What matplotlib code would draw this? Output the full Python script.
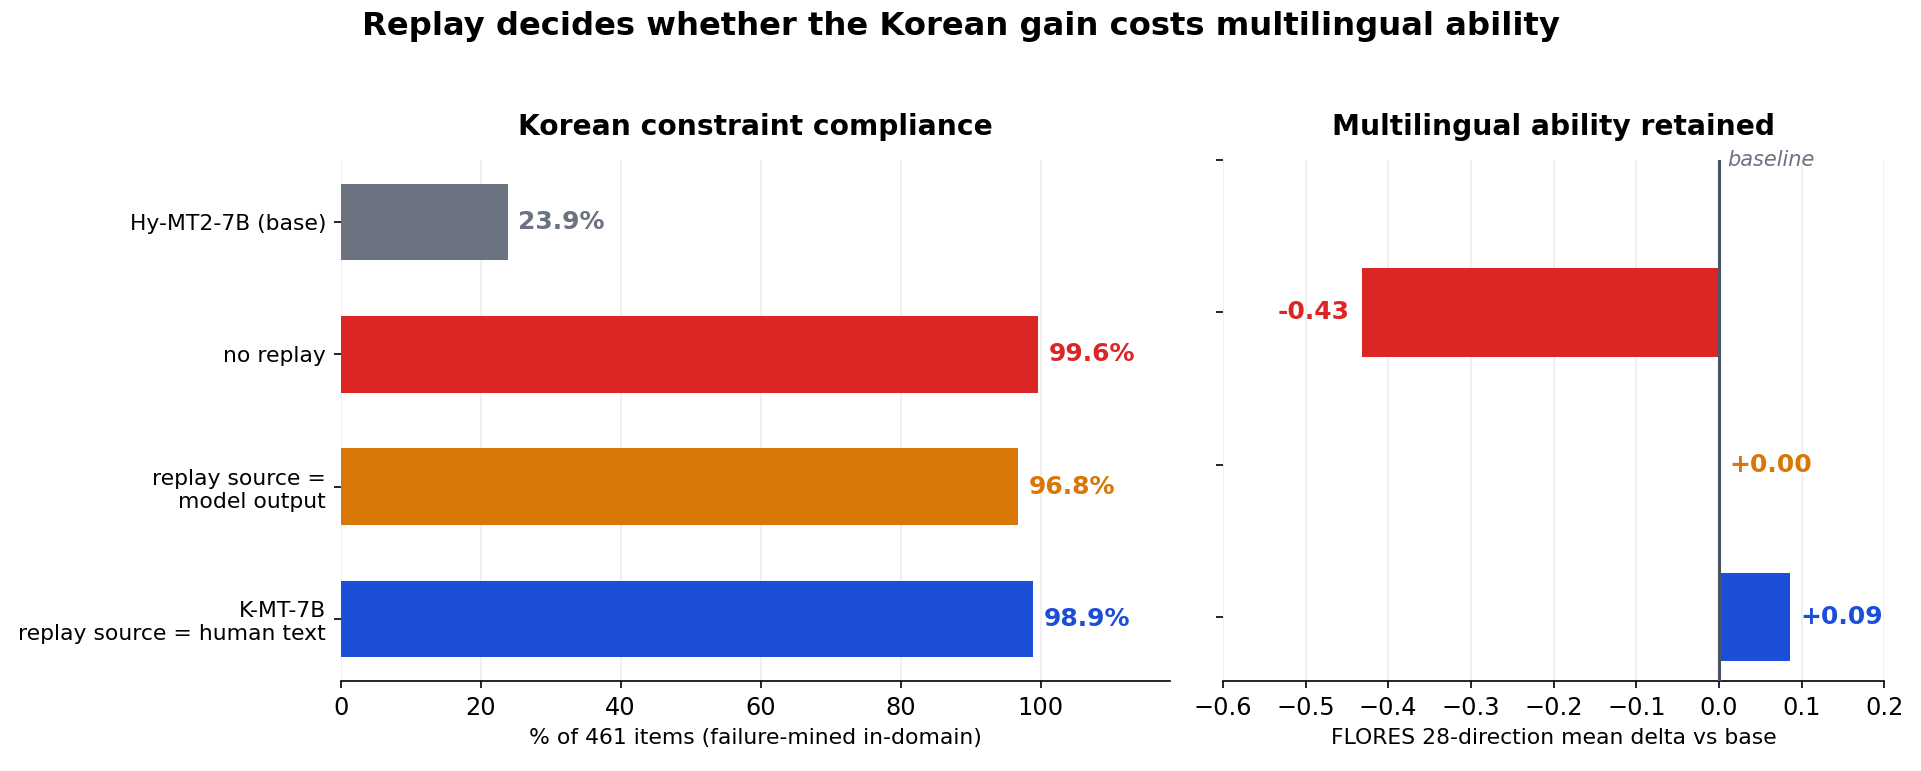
import numpy as np
import matplotlib
matplotlib.use('Agg')
from matplotlib import pyplot as plt

# left panel: Korean constraint compliance
models = ['Hy-MT2-7B (base)', 'no replay', 'replay source =\nmodel output', 'K-MT-7B\nreplay source = human text']
compliance = [23.9, 99.6, 96.8, 98.9]
colors = ['#6b7280', '#dc2626', '#d97706', '#1d4ed8']

# right panel: FLORES delta vs base (base row has no bar)
delta_rows = [1, 2, 3]
delta = [-0.432, 0.0, 0.086]
delta_labels = ['-0.43', '+0.00', '+0.09']
delta_colors = colors[1:]

fig = plt.figure(figsize=(12.81, 5.14), dpi=150)
ax1 = fig.add_axes([0.1773, 0.1167, 0.4317, 0.6758])
ax2 = fig.add_axes([0.6364, 0.1167, 0.3443, 0.6758])

y = np.arange(len(models))
bars = ax1.barh(y, compliance, height=0.58, color=colors, zorder=3)
ax1.set_yticks(y)
ax1.set_yticklabels(models, fontsize=10.5)
ax1.invert_yaxis()
ax1.set_xlim(0, 118.5)
ax1.set_xticks([0, 20, 40, 60, 80, 100])
ax1.tick_params(axis='x', labelsize=11.5)
ax1.grid(axis='x', color='#eeeeee', linewidth=0.8, zorder=0)
ax1.set_xlabel('% of 461 items (failure-mined in-domain)', fontsize=10.5)
ax1.set_title('Korean constraint compliance', fontsize=13.5, fontweight='bold', pad=12)
for b, v, c in zip(bars, compliance, colors):
    ax1.annotate(f'{v:.1f}%', (v, b.get_y() + b.get_height() / 2), xytext=(5, 0),
                 textcoords='offset points', va='center', ha='left',
                 fontsize=12, fontweight='bold', color=c)

ax2.barh(delta_rows, delta, height=0.58, color=delta_colors, zorder=3)
ax2.set_yticks([0, 1, 2, 3])
ax2.set_yticklabels([])
ax2.invert_yaxis()
ax2.set_xlim(-0.6, 0.2)
ax2.set_xticks(np.round(np.arange(-0.6, 0.21, 0.1), 1))
ax2.tick_params(axis='x', labelsize=11.5)
ax2.grid(axis='x', color='#eeeeee', linewidth=0.8, zorder=0)
ax2.axvline(0, color='#4b5563', linewidth=1.5, zorder=4)
ax2.set_xlabel('FLORES 28-direction mean delta vs base', fontsize=10.5)
ax2.set_title('Multilingual ability retained', fontsize=13.5, fontweight='bold', pad=12)
ylo, yhi = ax2.get_ylim()
ax2.annotate('baseline', (0, yhi), xytext=(4, 0), textcoords='offset points',
             va='center', ha='left', fontsize=10, style='italic', color='#6b7280')
for r, v, t, c in zip(delta_rows, delta, delta_labels, delta_colors):
    if v < 0:
        ax2.annotate(t, (v, r), xytext=(-6, 0), textcoords='offset points', va='center',
                     ha='right', fontsize=12, fontweight='bold', color=c)
    else:
        ax2.annotate(t, (v, r), xytext=(5, 0), textcoords='offset points', va='center',
                     ha='left', fontsize=12, fontweight='bold', color=c)

for ax in (ax1, ax2):
    ax.spines['top'].set_visible(False)
    ax.spines['right'].set_visible(False)
    ax.spines['left'].set_visible(False)

fig.suptitle('Replay decides whether the Korean gain costs multilingual ability',
             fontsize=15.5, fontweight='bold', x=0.5, y=0.965, va='center')

plt.savefig('out.png', dpi=150)
